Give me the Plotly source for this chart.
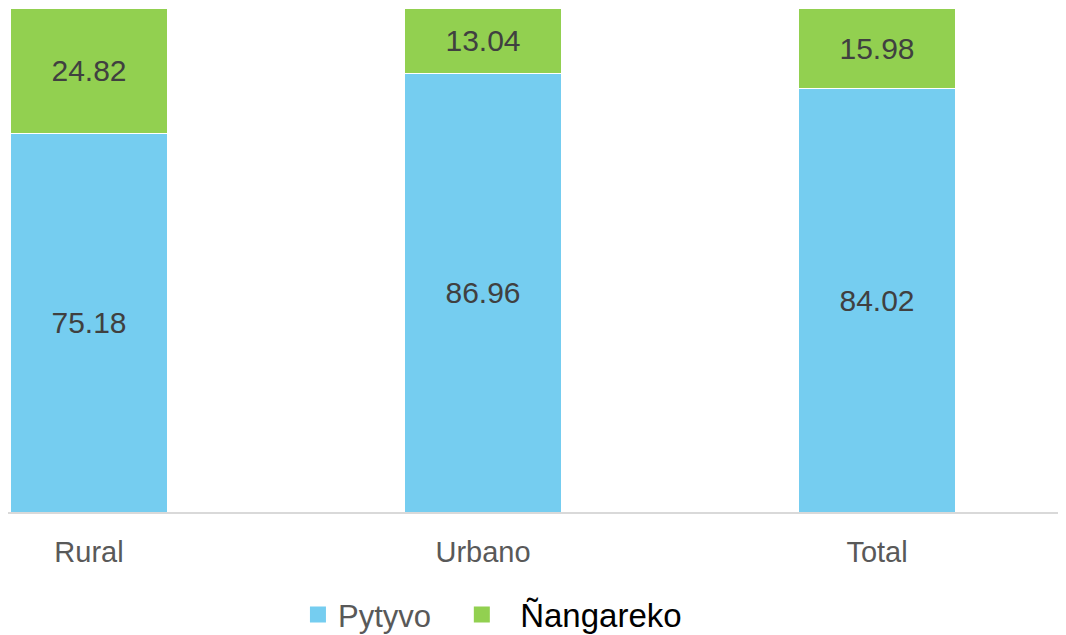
import plotly.graph_objects as go

categories = ["Rural", "Urbano", "Total"]
pytyvo = [75.18, 86.96, 84.02]
nangareko = [24.82, 13.04, 15.98]

blue = "#75CDF0"
green = "#92D050"
txt = "#404040"
font_family = "Liberation Sans, Arial, sans-serif"

fig = go.Figure()
fig.add_trace(go.Bar(
    x=categories, y=pytyvo, name="Pytyvo", showlegend=False,
    marker=dict(color=blue, line=dict(color="white", width=1)),
    text=[f"{v:.2f}" for v in pytyvo], textposition="inside",
    insidetextanchor="middle",
    textfont=dict(size=30, color=txt, family=font_family),
    width=0.4,
))
fig.add_trace(go.Bar(
    x=categories, y=nangareko, name="Ñangareko", showlegend=False,
    marker=dict(color=green, line=dict(color="white", width=1)),
    text=[f"{v:.2f}" for v in nangareko], textposition="inside",
    insidetextanchor="middle",
    textfont=dict(size=30, color=txt, family=font_family),
    width=0.4,
))
# legend entries with larger square symbols
fig.add_trace(go.Scatter(
    x=[None], y=[None], mode="markers", name="Pytyvo\u00a0\u00a0\u00a0",
    marker=dict(symbol="square", size=16, color=blue),
))
fig.add_trace(go.Scatter(
    x=[None], y=[None], mode="markers",
    name="<span style='color:#000000;font-size:33px'>\u00a0\u00a0Ñangareko</span>",
    marker=dict(symbol="square", size=16, color=green),
))

fig.update_layout(
    barmode="stack",
    width=1066, height=635,
    margin=dict(l=0, r=0, t=0, b=131),
    plot_bgcolor="white", paper_bgcolor="white",
    font=dict(family=font_family, size=30, color="#595959"),
    xaxis=dict(
        range=[-0.2056, 2.5],
        showline=True, linecolor="#D9D9D9", linewidth=2,
        tickfont=dict(size=29, color="#595959"),
        ticks="", ticklabelstandoff=13, showgrid=False,
    ),
    yaxis=dict(range=[0, 100], visible=False, showgrid=False),
    legend=dict(
        orientation="h", x=0.272, xanchor="left", y=-0.204, yanchor="middle",
        font=dict(size=31, color="#595959"),
        itemwidth=30, traceorder="normal",
    ),
    showlegend=True,
)

fig.write_html("out.html")
